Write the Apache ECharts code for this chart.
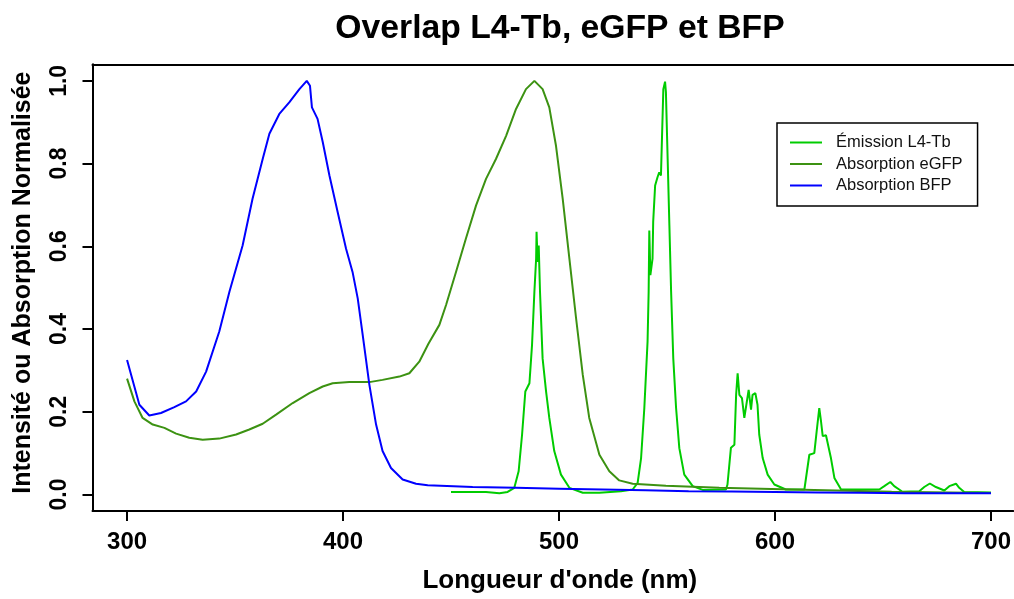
<!DOCTYPE html>
<html>
<head>
<meta charset="utf-8">
<script src="https://cdn.jsdelivr.net/npm/echarts@6/dist/echarts.min.js"></script>
<style>
html,body{margin:0;padding:0;background:#fff;}
#chart{width:1014px;height:599px;}
</style>
</head>
<body>
<div id="chart"></div>
<script>
// ---- Data ----
const titleText = "Overlap L4-Tb, eGFP et BFP";
const xTitle = "Longueur d'onde (nm)";
const yTitle = "Intensité ou Absorption Normalisée";
const seriesNames = ["Émission L4-Tb", "Absorption eGFP", "Absorption BFP"];
const xTicks = [300, 400, 500, 600, 700];
const yTicks = [0.0, 0.2, 0.4, 0.6, 0.8, 1.0];

// Emission L4-Tb
const emNm  = [450, 466.2, 472.4, 476.2, 479.3, 481.3, 482.9, 484.4, 486.3, 487.5, 488.6, 489.4, 489.6, 490.1, 490.6, 491.2, 492.4, 494, 495.5, 497.8, 500.9, 504.8, 511, 518.7, 528.7, 534.1, 536.4, 538, 539.5, 541, 541.5, 541.8, 542.3, 543.3, 543.6, 544.5, 545.6, 546.4, 547.2, 547.7, 548.3, 549.1, 549.5, 550.3, 551.1, 551.9, 552.9, 554.2, 555.7, 558, 561.9, 566.5, 577.3, 578, 579.6, 581.2, 582, 582.7, 583.5, 584.7, 585.8, 587.8, 588.9, 589.6, 590.9, 591.9, 592.7, 594.3, 596.6, 599.7, 605, 613.6, 615.9, 618.2, 619.3, 620.5, 621.3, 622.1, 623.6, 624.4, 625.9, 627.5, 630.6, 648.3, 650.6, 653.4, 655.2, 657.5, 659, 666.8, 669.1, 671.7, 674.5, 678.4, 680.7, 683.8, 685.3, 687.6, 700];
const emVal = [0.006, 0.006, 0.003, 0.006, 0.016, 0.056, 0.145, 0.249, 0.269, 0.361, 0.49, 0.57, 0.635, 0.562, 0.602, 0.49, 0.329, 0.249, 0.185, 0.105, 0.048, 0.016, 0.004, 0.004, 0.008, 0.012, 0.028, 0.088, 0.209, 0.37, 0.49, 0.638, 0.53, 0.57, 0.659, 0.747, 0.767, 0.779, 0.771, 0.867, 0.98, 0.998, 0.972, 0.811, 0.651, 0.49, 0.329, 0.209, 0.112, 0.048, 0.02, 0.011, 0.012, 0.024, 0.113, 0.12, 0.241, 0.293, 0.241, 0.233, 0.185, 0.253, 0.205, 0.241, 0.245, 0.217, 0.145, 0.088, 0.048, 0.024, 0.012, 0.012, 0.096, 0.1, 0.153, 0.209, 0.177, 0.141, 0.143, 0.146, 0.088, 0.04, 0.012, 0.012, 0.02, 0.03, 0.02, 0.012, 0.0065, 0.008, 0.018, 0.0265, 0.018, 0.0096, 0.02, 0.026, 0.016, 0.006, 0.005];

// Absorption eGFP
const egfpNm  = [300, 303.4, 307.2, 311.9, 317.3, 322.7, 328.8, 335, 342.7, 350.5, 356.6, 362.8, 369, 376.7, 384.4, 390.6, 395.2, 402.9, 412.2, 418.3, 426.1, 430.7, 435.3, 439.6, 444.6, 447.7, 452.3, 456.9, 461.6, 466.2, 470.8, 475.5, 480.1, 484.7, 488.6, 492.4, 495.5, 498.6, 501.7, 504.8, 507.9, 511, 514, 518.7, 523.3, 527.9, 534.1, 549.5, 574.2, 608, 654, 700];
const egfpVal = [0.28, 0.225, 0.185, 0.169, 0.161, 0.147, 0.137, 0.1325, 0.135, 0.145, 0.157, 0.171, 0.193, 0.221, 0.245, 0.261, 0.269, 0.2716, 0.2716, 0.277, 0.285, 0.293, 0.321, 0.365, 0.41, 0.458, 0.538, 0.619, 0.699, 0.763, 0.811, 0.867, 0.932, 0.98, 1.0, 0.98, 0.936, 0.843, 0.715, 0.57, 0.426, 0.289, 0.185, 0.096, 0.056, 0.034, 0.026, 0.021, 0.016, 0.012, 0.0065, 0.0035];

// Absorption BFP
const bfpNm  = [300, 305.7, 310.3, 315.7, 321.9, 327.3, 332, 336.6, 342.7, 347.4, 353.5, 358.1, 362.8, 365.9, 370.5, 375.1, 379.8, 383.2, 384.7, 385.6, 388.2, 390.6, 393.7, 397.5, 401.4, 404.4, 406.8, 409.1, 412.2, 415.3, 418.3, 422.2, 427.6, 433.8, 439.2, 460, 480, 500, 520, 540, 560, 580, 600, 620, 640, 660, 680, 700];
const bfpVal = [0.325, 0.217, 0.191, 0.197, 0.211, 0.225, 0.249, 0.297, 0.394, 0.49, 0.602, 0.715, 0.811, 0.872, 0.92, 0.948, 0.98, 1.0, 0.988, 0.936, 0.908, 0.852, 0.771, 0.683, 0.594, 0.538, 0.474, 0.386, 0.265, 0.169, 0.105, 0.064, 0.036, 0.026, 0.022, 0.018, 0.016, 0.014, 0.012, 0.010, 0.008, 0.007, 0.006, 0.005, 0.004, 0.003, 0.003, 0.003];

const colors = ["#00CC00", "#3C9212", "#0000FF"];

function zip(a, b) { return a.map((v, i) => [v, b[i]]); }

const chart = echarts.init(document.getElementById('chart'), null, {renderer: 'canvas'});
const FONT = "'Liberation Sans', Arial, sans-serif";
const X_MIN = 284, X_MAX = 710.3;

function mkSeries(name, nm, val, color) {
  return {
    name: name, type: 'line', data: zip(nm, val),
    xAxisIndex: 0, yAxisIndex: 0,
    symbol: 'none', smooth: false, animation: false,
    lineStyle: {color: color, width: 2},
    itemStyle: {color: color}
  };
}

const axisLineStyle = {color: '#000', width: 2};

chart.setOption({
  backgroundColor: '#ffffff',
  animation: false,
  title: {
    text: titleText, left: 555, top: 7, textAlign: 'center',
    textStyle: {fontFamily: FONT, fontSize: 33.7, fontWeight: 'bold', color: '#000'}
  },
  legend: {
    left: 777, top: 123,
    orient: 'vertical',
    backgroundColor: '#fff', borderColor: '#000', borderWidth: 1.5,
    padding: [11, 15, 12, 13],
    icon: 'rect', itemWidth: 32, itemHeight: 2, itemGap: 4.5,
    data: seriesNames,
    textStyle: {fontFamily: FONT, fontSize: 16.5, lineHeight: 16, color: '#111', padding: [0, 0, 0, 9]}
  },
  grid: {
    left: 92.5, top: 64.3, right: 0, bottom: 86.3,
    show: false
  },
  xAxis: [{
    type: 'value', min: X_MIN, max: X_MAX, position: 'bottom',
    name: xTitle, nameLocation: 'middle', nameGap: 57,
    nameTextStyle: {fontFamily: FONT, fontSize: 26, fontWeight: 'bold', color: '#000', padding: [0, 0, 0, 14]},
    axisLine: {show: true, onZero: false, lineStyle: axisLineStyle},
    splitLine: {show: false},
    axisTick: {show: true, length: 10, lineStyle: {color: '#000', width: 2}, customValues: xTicks},
    axisLabel: {show: true, margin: 19, fontFamily: FONT, fontSize: 24, fontWeight: 'bold', color: '#000', customValues: xTicks,
                formatter: v => String(v)}
  }, {
    type: 'value', min: X_MIN, max: X_MAX, position: 'top',
    axisLine: {show: true, onZero: false, lineStyle: axisLineStyle},
    axisTick: {show: false}, axisLabel: {show: false}, splitLine: {show: false}
  }],
  yAxis: {
    type: 'value', min: -0.04, max: 1.04, position: 'left',
    name: yTitle, nameLocation: 'middle', nameGap: 57,
    nameTextStyle: {fontFamily: FONT, fontSize: 25, fontWeight: 'bold', color: '#000', padding: [0, 0, 0, 10]},
    axisLine: {show: true, onZero: false, lineStyle: axisLineStyle},
    splitLine: {show: false},
    axisTick: {show: true, length: 10, lineStyle: {color: '#000', width: 2}, customValues: yTicks},
    axisLabel: {show: true, rotate: 90, margin: 21, fontFamily: FONT, fontSize: 23, fontWeight: 'bold', color: '#000', customValues: yTicks,
                formatter: v => v.toFixed(1)}
  },
  series: [
    mkSeries(seriesNames[0], emNm, emVal, colors[0]),
    mkSeries(seriesNames[1], egfpNm, egfpVal, colors[1]),
    mkSeries(seriesNames[2], bfpNm, bfpVal, colors[2])
  ]
});
</script>
</body>
</html>
